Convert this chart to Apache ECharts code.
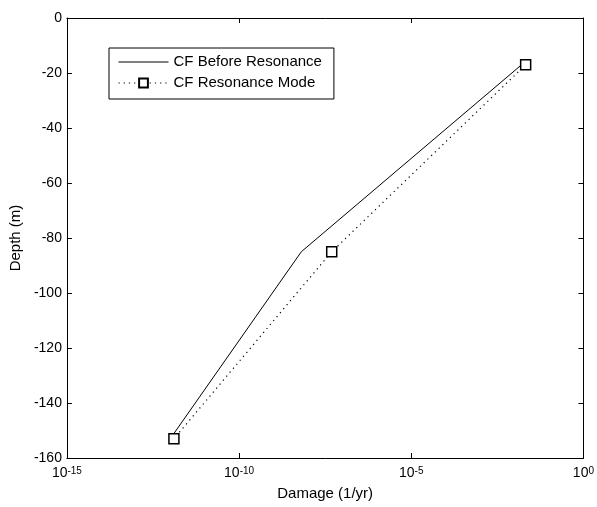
<!DOCTYPE html>
<html>
<head>
<meta charset="utf-8">
<script src="https://cdn.jsdelivr.net/npm/echarts@6/dist/echarts.min.js"></script>
<style>html,body{margin:0;padding:0;background:#fff;}#c{width:597px;height:507px;}</style>
</head>
<body>
<div id="c"></div>
<script>
const depths = [-17, -85, -153];
const cfBefore = [0.016, 6.4e-9, 1.0e-12];
const cfResonance = [0.021, 4.9e-8, 1.28e-12];
const seriesNames = ['CF Before Resonance', 'CF Resonance Mode'];
const yTicks = { min: -160, max: 0, interval: 20 };
const xRange = { min: 1e-15, max: 1 };

const FONT = 'Liberation Sans';
const chart = echarts.init(document.getElementById('c'), null, { renderer: 'canvas' });

function pairs(xs, ys) { return xs.map((x, i) => [x, ys[i]]); }

const axisCommon = {
  axisLine: { show: true, onZero: false, lineStyle: { color: '#000', width: 1 } },
  axisTick: { show: true, inside: true, length: 5, lineStyle: { color: '#000' } },
  splitLine: { show: false },
  minorTick: { show: false },
  minorSplitLine: { show: false }
};

chart.setOption({
  backgroundColor: '#fff',
  animation: false,
  grid: { left: 64, right: 13, top: 18, bottom: 49, containLabel: false },
  legend: {
    left: 109, top: 48,
    orient: 'vertical',
    data: [
      { name: seriesNames[0], itemStyle: { opacity: 0 } },
      { name: seriesNames[1] }
    ],
    itemWidth: 50, itemHeight: 11, itemGap: 5,
    padding: [6, 12, 8, 9],
    borderColor: '#000', borderWidth: 1, backgroundColor: '#fff',
    lineStyle: { width: 1 },
    textStyle: { fontFamily: FONT, fontSize: 15, color: '#000', lineHeight: 16 }
  },
  xAxis: [
    Object.assign({}, axisCommon, {
      type: 'log', logBase: 10, min: xRange.min, max: xRange.max, interval: 5,
      position: 'bottom',
      name: 'Damage (1/yr)', nameLocation: 'middle', nameGap: 28,
      nameTextStyle: { fontFamily: FONT, fontSize: 15, color: '#000' },
      axisLabel: {
        margin: 8,
        formatter: function (v) { return '{b|10}{s|' + Math.round(Math.log10(v)) + '}'; },
        rich: {
          b: { fontFamily: FONT, fontSize: 14, color: '#000' },
          s: { fontFamily: FONT, fontSize: 10, color: '#000', verticalAlign: 'top' }
        }
      }
    }),
    Object.assign({}, axisCommon, {
      type: 'log', logBase: 10, min: xRange.min, max: xRange.max, interval: 5,
      position: 'top',
      axisLabel: { show: false }
    })
  ],
  yAxis: [
    Object.assign({}, axisCommon, {
      type: 'value', min: yTicks.min, max: yTicks.max, interval: yTicks.interval,
      position: 'left',
      name: 'Depth (m)', nameLocation: 'middle', nameGap: 42,
      nameTextStyle: { fontFamily: FONT, fontSize: 15, color: '#000' },
      axisLabel: { margin: 5, fontFamily: FONT, fontSize: 14, color: '#000' }
    }),
    Object.assign({}, axisCommon, {
      type: 'value', min: yTicks.min, max: yTicks.max, interval: yTicks.interval,
      position: 'right',
      axisLabel: { show: false }
    })
  ],
  series: [
    {
      name: seriesNames[0], type: 'line',
      xAxisIndex: 0, yAxisIndex: 0,
      data: pairs(cfBefore, depths),
      symbol: 'none',
      lineStyle: { color: '#000', width: 1, type: 'solid' },
      itemStyle: { color: '#000' },
      z: 2
    },
    {
      name: seriesNames[1], type: 'line',
      xAxisIndex: 0, yAxisIndex: 0,
      data: pairs(cfResonance, depths),
      symbol: 'rect', symbolSize: 10,
      lineStyle: { color: '#000', width: 1.2, type: [1.2, 4] },
      itemStyle: { color: '#fff', borderColor: '#000', borderWidth: 1.5 },
      z: 3
    }
  ]
});
</script>
</body>
</html>
